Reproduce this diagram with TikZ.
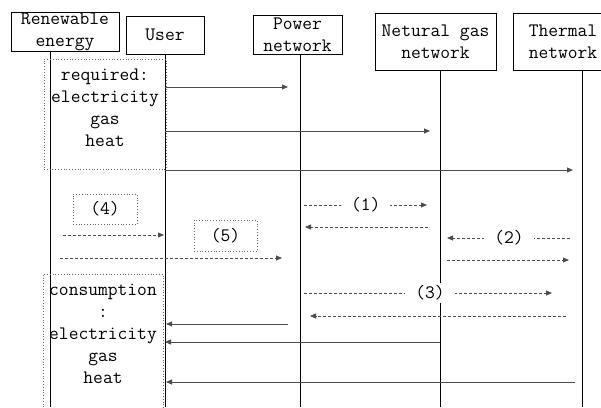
\documentclass[tikz,border=0pt]{standalone}
\usetikzlibrary{arrows.meta}

\begin{document}
\begin{tikzpicture}[
    x=1pt, y=-1pt,
    font=\ttfamily\fontsize{19}{22}\selectfont,
    actor/.style={draw=black, line width=0.8pt, inner sep=0pt, align=center, minimum height=#1},
    life/.style={line width=0.8pt},
    msg/.style={line width=0.8pt, black!70, -{Triangle[length=6pt,width=5pt]}},
    ret/.style={msg, dash pattern=on 3pt off 2pt},
    tag/.style={fill=white, inner xsep=10pt, inner ysep=3pt, text=black},
    note/.style={draw=black!60, dotted, line width=0.8pt, inner sep=0pt}
]
    \useasboundingbox (0,0) rectangle (601,407);
    \clip (0,0) rectangle (601,407);

    % Participants
    \node[actor=39pt, minimum width=108pt] (renew) at (65,31.5) {Renewable\\energy};
    \node[actor=38pt, minimum width=78pt] (user) at (165,35) {User};
    \node[actor=39pt, minimum width=89pt] (power) at (297.5,34.5) {Power\\network};
    \node[actor=57pt, minimum width=121pt] (gas) at (435.5,41.5) {Netural gas\\network};
    \node[actor=57pt, minimum width=100pt] (heat) at (563,41.5) {Thermal\\network};

    % Lifelines
    \coordinate (reL) at (50,51);
    \coordinate (usL) at (165,54);
    \coordinate (pwL) at (300,54);
    \coordinate (ngL) at (440,70);
    \coordinate (thL) at (582,70);
    \foreach \l in {reL,usL,pwL,ngL,thL}
        \draw[life] (\l) -- (\l |- 0,407);

    % Demand notes
    \node[note, minimum width=122pt, minimum height=110pt] (reqbox) at (105,114) {};
    \node[align=center] (reqtext) at (105,108) {required:\\electricity\\gas\\heat};
    \node[note, minimum width=120pt, minimum height=140pt] (conbox) at (103,344) {};
    \node[align=center] (context) at (103,334) {consumption\\:\\electricity\\gas\\heat};

    % Requests from the user
    \draw[msg, shorten >=12pt] (usL |- 0,87) -- (pwL |- 0,87);
    \draw[msg, shorten >=10pt] (usL |- 0,131) -- (ngL |- 0,131);
    \draw[msg, shorten >=9pt] (usL |- 0,170) -- (thL |- 0,170);

    % Renewable supply
    \node[note, minimum width=64pt, minimum height=30pt] (n4) at (105,209) {(4)};
    \draw[ret, shorten <=13pt, shorten >=1pt] (reL |- 0,235) -- (usL |- 0,235);
    \node[note, minimum width=63pt, minimum height=31pt] (n5) at (225.5,235.5) {(5)};
    \draw[ret, shorten <=10pt, shorten >=18pt] (reL |- 0,258) -- (pwL |- 0,258);

    % Exchange between networks
    \draw[ret, shorten <=4pt, shorten >=13pt] (pwL |- 0,205) -- node[tag, pos=0.47] (t1) {(1)} (ngL |- 0,205);
    \draw[ret, shorten <=12pt, shorten >=5pt] (ngL |- 0,227) -- (pwL |- 0,227);
    \draw[ret, shorten <=12pt, shorten >=7pt] (thL |- 0,238) -- node[tag, pos=0.514] (t2) {(2)} (ngL |- 0,238);
    \draw[ret, shorten <=7pt, shorten >=13pt] (ngL |- 0,260) -- (thL |- 0,260);
    \draw[ret, shorten <=4pt, shorten >=30pt] (pwL |- 0,293) -- node[tag, pos=0.461] (t3) {(3)} (thL |- 0,293);
    \draw[ret, shorten <=16pt, shorten >=10pt] (thL |- 0,316) -- (pwL |- 0,316);

    % Delivery to the user
    \draw[msg, shorten <=12pt, shorten >=1pt] (pwL |- 0,324) -- (usL |- 0,324);
    \draw[msg, shorten >=0pt] (ngL |- 0,342) -- (usL |- 0,342);
    \draw[msg, shorten <=7pt, shorten >=1pt] (thL |- 0,382) -- (usL |- 0,382);
\end{tikzpicture}
\end{document}
